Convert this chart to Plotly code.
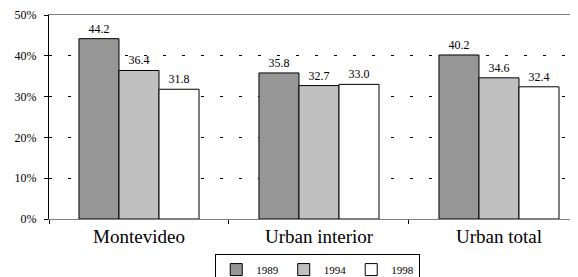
import plotly.graph_objects as go

categories = ["Montevideo", "Urban interior", "Urban total"]
years = ["1989", "1994", "1998"]
values_1989 = [44.2, 35.8, 40.2]
values_1994 = [36.4, 32.7, 34.6]
values_1998 = [31.8, 33.0, 32.4]
colors = ["#969696", "#c0c0c0", "#ffffff"]

series = [values_1989, values_1994, values_1998]
font = "Liberation Serif"

fig = go.Figure()
for yr, vals, col in zip(years, series, colors):
    fig.add_trace(go.Bar(
        x=categories, y=vals, name=yr,
        marker=dict(color=col, line=dict(color="black", width=1)),
        text=[f"{v:.1f}" for v in vals], textposition="outside",
        textfont=dict(family=font, size=12, color="black"),
        cliponaxis=False,
    ))

# page body has an 8px default margin, so the figure is 8px smaller
fig.update_layout(
    width=570, height=269,
    margin=dict(l=41, r=0, t=7, b=58, autoexpand=False),
    paper_bgcolor="white", plot_bgcolor="white",
    barmode="group", bargap=0.333, bargroupgap=0,
    font=dict(family=font, color="black"),
    showlegend=True,
    legend=dict(orientation="h", x=0.508, xanchor="center", y=-0.172, yanchor="top",
                bordercolor="black", borderwidth=1, font=dict(family=font, size=11),
                itemwidth=30, tracegroupgap=0),
)
fig.update_xaxes(
    range=[-0.5, 2.439], automargin=False,
    showline=True, linecolor="#808080", linewidth=1, mirror=True,
    ticks="outside", tickson="boundaries", ticklen=4, tickcolor="black",
    tickfont=dict(family=font, size=19), showgrid=False,
)
fig.update_yaxes(
    range=[0, 50], dtick=10, ticksuffix="%", automargin=False,
    showline=True, linecolor="black", linewidth=1,
    ticks="outside", ticklen=4, tickcolor="black", ticklabelstandoff=5,
    tickfont=dict(family=font, size=12),
    showgrid=True, gridcolor="black", gridwidth=1, griddash="3px,16px",
    zeroline=False,
)

fig.write_html("out.html")
